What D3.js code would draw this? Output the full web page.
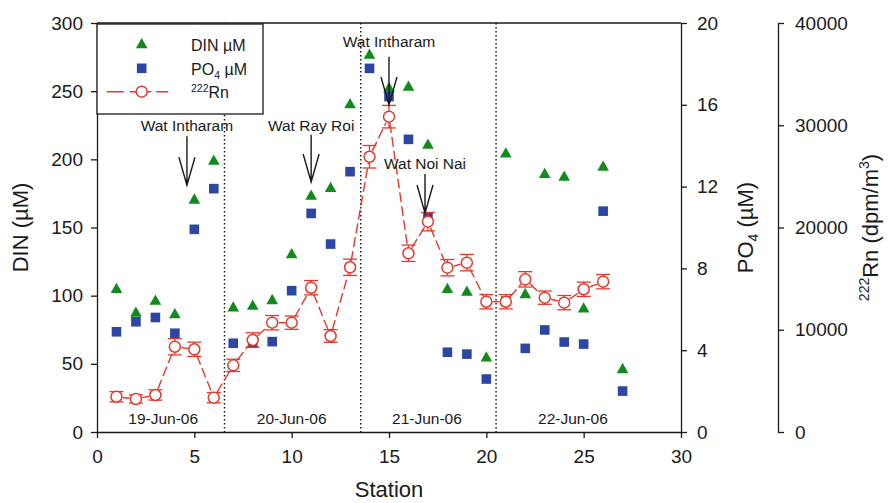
<!DOCTYPE html>
<html><head><meta charset="utf-8">
<script src="https://cdn.jsdelivr.net/npm/d3@7"></script>
<style>
body{margin:0;background:#fff}
svg{display:block}
text{font-family:"Liberation Sans",Arial,Helvetica,sans-serif;fill:#1a1a1a}
</style>
</head><body>
<svg id="c" width="889" height="503"></svg>
<script>
// ---------- data ----------
const stations = [1,2,3,4,5,6,7,8,9,10,11,12,13,14,15,16,17,18,19,20,21,22,23,24,25,26,27];
const din = [105.4,88,96.8,87,171,199.5,91.9,93.2,97.3,131,173.8,179.5,241,277.3,252.8,253.8,211.3,105.4,103.4,55.2,204.9,101.7,189.8,187.8,91.2,195.1,46.7];
const po4 = [4.9,5.39,5.6,4.83,9.91,11.9,4.34,4.34,4.42,6.91,10.69,9.19,12.73,17.78,16.4,14.31,10.5,3.9,3.81,2.59,6.4,4.09,4.99,4.4,4.3,10.8,2.0];
const rnStations = [1,2,3,4,5,6,7,8,9,10,11,12,13,14,15,16,17,18,19,20,21,22,23,24,25,26];
const rn = [3450,3230,3620,8340,8090,3360,6520,9000,10690,10690,14110,9390,16110,26920,30840,17480,20570,16070,16560,12740,12740,14930,13140,12650,13960,14700];
const rnErr = [500,400,500,800,700,500,600,700,700,650,700,620,800,1100,1100,800,900,800,800,700,700,750,650,700,700,700];

const xTicks = [0,5,10,15,20,25,30];
const dinTicks = [0,50,100,150,200,250,300];
const po4Ticks = [0,4,8,12,16,20];
const rnTicks = [0,10000,20000,30000,40000];

const dayBreaks = [6.55,13.55,20.5];
const dayLabels = ["19-Jun-06","20-Jun-06","21-Jun-06","22-Jun-06"];
const dayLabelX = [3.4,10.0,16.95,24.45];

const siteNames = ["Wat Intharam","Wat Ray Roi","Wat Intharam","Wat Noi Nai"];
const siteX = [4.62,11,15,16.85];
const siteTextDin = [221,221,282.4,193.2];
const siteArrowTop = [217,218,275.3,189.2];
const siteArrowTip = [181,183.4,239.9,160.6];

// ---------- setup ----------
const GREEN = "#128a1c", BLUE = "#2d46a4", RED = "#e4382c", INK = "#1a1a1a";
const svg = d3.select("#c");
const L = 97, R = 681, T = 23, B = 432, RN_AX = 778;

const x = d3.scaleLinear().domain([0,30]).range([L,R]);
const yDin = d3.scaleLinear().domain([0,300]).range([B,T]);
const yPo4 = d3.scaleLinear().domain([0,20]).range([B,T]);
const yRn = d3.scaleLinear().domain([0,40000]).range([B,T]);

function styleAxis(g, fs){
  g.selectAll("path,line").attr("stroke",INK).attr("stroke-width",1.3);
  g.selectAll("text").attr("font-size",fs).attr("fill",INK)
   .attr("font-family","'Liberation Sans',Arial,Helvetica,sans-serif");
}

// top frame line
svg.append("line").attr("x1",L).attr("x2",R).attr("y1",T).attr("y2",T)
  .attr("stroke",INK).attr("stroke-width",1.3);

// axes
svg.append("g").attr("transform",`translate(${L},0)`)
  .call(d3.axisLeft(yDin).tickValues(dinTicks).tickSize(6).tickSizeOuter(0).tickPadding(8))
  .call(g=>styleAxis(g,19));
svg.append("g").attr("transform",`translate(0,${B})`)
  .call(d3.axisBottom(x).tickValues(xTicks).tickSize(6).tickSizeOuter(0).tickPadding(12))
  .call(g=>styleAxis(g,19));
svg.append("g").attr("transform",`translate(${R},0)`)
  .call(d3.axisRight(yPo4).tickValues(po4Ticks).tickSize(6).tickSizeOuter(0).tickPadding(10))
  .call(g=>styleAxis(g,19));
svg.append("g").attr("transform",`translate(${RN_AX},0)`)
  .call(d3.axisRight(yRn).tickValues(rnTicks).tickFormat(d3.format("d")).tickSize(6).tickSizeOuter(0).tickPadding(11))
  .call(g=>styleAxis(g,19));

// axis titles
svg.append("text").attr("transform",`translate(28,${(T+B)/2}) rotate(-90)`)
  .attr("text-anchor","middle").attr("font-size",22).text("DIN (\u00b5M)");
svg.append("text").attr("x",(L+R)/2).attr("y",497).attr("text-anchor","middle")
  .attr("font-size",22).text("Station");
const po4T = svg.append("text").attr("transform",`translate(753,${(T+B)/2}) rotate(-90)`)
  .attr("text-anchor","middle").attr("font-size",22);
po4T.append("tspan").text("PO");
po4T.append("tspan").attr("font-size",14).attr("dy",5).text("4");
po4T.append("tspan").attr("dy",-5).text(" (\u00b5M)");
const rnT = svg.append("text").attr("transform",`translate(878,${(T+B)/2}) rotate(-90)`)
  .attr("text-anchor","middle").attr("font-size",22);
rnT.append("tspan").attr("font-size",14).attr("dy",-9).text("222");
rnT.append("tspan").attr("dy",9).text("Rn (dpm/m");
rnT.append("tspan").attr("font-size",14).attr("dy",-9).text("3");
rnT.append("tspan").attr("dy",9).text(")");

// day separators
svg.append("g").selectAll("line").data(dayBreaks).join("line")
  .attr("x1",d=>x(d)).attr("x2",d=>x(d)).attr("y1",T).attr("y2",B)
  .attr("stroke",INK).attr("stroke-width",1.5).attr("stroke-dasharray","1.5,2.5");
svg.append("g").selectAll("text").data(dayLabels).join("text")
  .attr("x",(d,i)=>x(dayLabelX[i])).attr("y",424).attr("text-anchor","middle")
  .attr("font-size",15.5).text(d=>d);

// markers
const tri = "M0,-5.5L5.8,4.8L-5.8,4.8Z";
svg.append("g").selectAll("path").data(stations).join("path")
  .attr("d",tri).attr("fill",GREEN)
  .attr("transform",(d,i)=>`translate(${x(d)},${yDin(din[i])})`);
const sq = 9.6;
svg.append("g").selectAll("rect").data(stations).join("rect")
  .attr("x",d=>x(d)-sq/2).attr("y",(d,i)=>yPo4(po4[i])-sq/2)
  .attr("width",sq).attr("height",sq).attr("fill",BLUE);

// Rn line segments (circle edge to circle edge)
const rr = 5.5;
const segs = d3.pairs(rnStations.map((s,i)=>[x(s),yRn(rn[i])]));
svg.append("g").selectAll("line").data(segs).join("line")
  .each(function([a,b]){
    const dx=b[0]-a[0], dy=b[1]-a[1], len=Math.hypot(dx,dy), ux=dx/len, uy=dy/len;
    const g=rr+1;
    d3.select(this).attr("x1",a[0]+ux*g).attr("y1",a[1]+uy*g)
      .attr("x2",b[0]-ux*g).attr("y2",b[1]-uy*g);
  })
  .attr("stroke",RED).attr("stroke-width",1.4).attr("stroke-dasharray","10,4");

// error bars
const eb = svg.append("g").attr("stroke",RED).attr("stroke-width",1.3);
rnStations.forEach((s,i)=>{
  const cx=x(s), y1=yRn(rn[i]+rnErr[i]), y2=yRn(rn[i]-rnErr[i]);
  eb.append("line").attr("x1",cx).attr("x2",cx).attr("y1",y1).attr("y2",y2);
  eb.append("line").attr("x1",cx-7).attr("x2",cx+7).attr("y1",y1).attr("y2",y1);
  eb.append("line").attr("x1",cx-7).attr("x2",cx+7).attr("y1",y2).attr("y2",y2);
});
svg.append("g").selectAll("circle").data(rnStations).join("circle")
  .attr("cx",d=>x(d)).attr("cy",(d,i)=>yRn(rn[i])).attr("r",rr)
  .attr("fill","#fff").attr("stroke",RED).attr("stroke-width",1.5);

// site annotations
const ann = svg.append("g");
siteNames.forEach((n,i)=>{
  const cx=x(siteX[i]);
  ann.append("text").attr("x",cx).attr("y",yDin(siteTextDin[i])).attr("text-anchor","middle")
    .attr("font-size",15.5).text(n);
  const top=yDin(siteArrowTop[i]), tip=yDin(siteArrowTip[i]);
  ann.append("path").attr("d",`M${cx},${top}L${cx},${tip}M${cx-8},${tip-28}L${cx},${tip}L${cx+8},${tip-28}`)
    .attr("fill","none").attr("stroke",INK).attr("stroke-width",1.4);
});

// legend
const lg = svg.append("g");
lg.append("rect").attr("x",L).attr("y",24).attr("width",166).attr("height",90)
  .attr("fill","#fff").attr("stroke",INK).attr("stroke-width",1.3);
lg.append("path").attr("d",tri).attr("fill",GREEN).attr("transform","translate(141.7,43.5)");
lg.append("rect").attr("x",141.7-sq/2).attr("y",68.3-sq/2).attr("width",sq).attr("height",sq).attr("fill",BLUE);
lg.append("line").attr("x1",106.7).attr("x2",136.2).attr("y1",91.7).attr("y2",91.7)
  .attr("stroke",RED).attr("stroke-width",1.4).attr("stroke-dasharray","17,6");
lg.append("line").attr("x1",168.3).attr("x2",147.2).attr("y1",91.7).attr("y2",91.7)
  .attr("stroke",RED).attr("stroke-width",1.4).attr("stroke-dasharray","12,5");
lg.append("circle").attr("cx",141.7).attr("cy",91.7).attr("r",rr)
  .attr("fill","#fff").attr("stroke",RED).attr("stroke-width",1.5);
lg.append("text").attr("x",191).attr("y",51).attr("font-size",16).text("DIN \u00b5M");
const lp = lg.append("text").attr("x",191).attr("y",74.5).attr("font-size",16);
lp.append("tspan").text("PO");
lp.append("tspan").attr("font-size",10.5).attr("dy",4).text("4");
lp.append("tspan").attr("dy",-4).text(" \u00b5M");
const lr = lg.append("text").attr("x",191).attr("y",97.5).attr("font-size",16);
lr.append("tspan").attr("font-size",10.5).attr("dy",-6).text("222");
lr.append("tspan").attr("dy",6).text("Rn");
</script>
</body></html>
